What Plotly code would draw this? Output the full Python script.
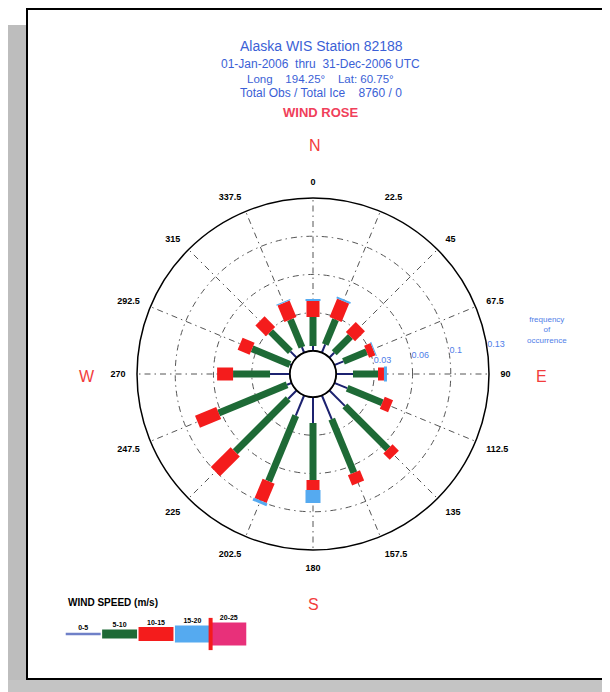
import plotly.graph_objects as go

# page body adds an 8px margin, so geometry below is given in reference
# pixels and shifted back by OFF
OFF = 8
W, H = 610 - OFF, 692 - OFF

# wind directions (deg, clockwise from north)
directions = [0, 22.5, 45, 67.5, 90, 112.5, 135, 157.5,
              180, 202.5, 225, 247.5, 270, 292.5, 315, 337.5]
dir_labels = ["0", "22.5", "45", "67.5", "90", "112.5", "135", "157.5",
              "180", "202.5", "225", "247.5", "270", "292.5", "315", "337.5"]

speed_bins = ["0-5", "5-10", "10-15", "15-20", "20-25"]

# frequency of occurrence per speed bin
freq_0_5 = [0.0044, 0.0078, 0.0061, 0.0087, 0.0148, 0.0122, 0.0192, 0.0226,
            0.0226, 0.0192, 0.0105, 0.0044, 0.0174, 0.0017, 0.0078, 0.0052]
freq_5_10 = [0.0253, 0.0235, 0.0200, 0.0218, 0.0218, 0.0331, 0.0531, 0.0505,
             0.0497, 0.0618, 0.0653, 0.0645, 0.0322, 0.0357, 0.0244, 0.0261]
freq_10_15 = [0.0139, 0.0174, 0.0122, 0.0061, 0.0052, 0.0078, 0.0078, 0.0096,
              0.0087, 0.0183, 0.0244, 0.0200, 0.0139, 0.0113, 0.0131, 0.0157]
freq_15_20 = [0.0017, 0.0017, 0.0, 0.0009, 0.0026, 0.0, 0.0, 0.0,
              0.0113, 0.0026, 0.0, 0.0, 0.0, 0.0, 0.0, 0.0009]
freq_20_25 = [0.0, 0.0, 0.0, 0.0, 0.0, 0.0, 0.0, 0.0,
              0.0, 0.0, 0.0, 0.0, 0.0, 0.0, 0.0, 0.0]

ring_vals = [0.0333, 0.0667, 0.1, 0.1333]
ring_labels = ["0.03", "0.06", "0.1", "0.13"]

COLORS = ["#1c2270", "#1e6a36", "#f41c1c", "#55aaf0", "#e8307a"]
LEGEND_COLORS = ["#6f80c8", "#1e6a36", "#f41c1c", "#55aaf0", "#e8307a"]
ROSE_WIDTHS = [2, 7, 13, 15, 18]
LEGEND_WIDTHS = [2.5, 9, 14, 17, 23]

BLUE = "#3b5fd6"
LIGHT_BLUE = "#4f7ee8"
RED = "#f23c3c"
GRID = "#555555"
GRID_DASH = "6px,4px,1.5px,4px"
FONT = "Arial, Liberation Sans, sans-serif"


def px_x(x):
    return (x - OFF) / W


def px_y(y):
    return 1 - (y - OFF) / H


fig = go.Figure()

# stacked segments, each drawn as a thick radial line
all_bins = [freq_0_5, freq_5_10, freq_10_15, freq_15_20, freq_20_25]
base = [0.0] * len(directions)
for b, freqs in enumerate(all_bins):
    rr, tt = [], []
    for i, d in enumerate(directions):
        if freqs[i] > 0:
            rr += [base[i], base[i] + freqs[i], None]
            tt += [d, d, None]
        base[i] += freqs[i]
    if rr:
        fig.add_trace(go.Scatterpolar(
            r=rr, theta=tt, mode="lines", showlegend=False, hoverinfo="skip",
            line=dict(color=COLORS[b], width=ROSE_WIDTHS[b]),
        ))

# calm circle
fig.add_trace(go.Scatterpolar(
    r=[0] * 73, theta=[k * 5 for k in range(73)], mode="lines",
    line=dict(color="black", width=2), showlegend=False, hoverinfo="skip",
))

# ring labels, horizontal, just above the east axis
fig.add_trace(go.Scatterpolar(
    r=ring_vals, theta=[82] * len(ring_vals), mode="text", text=ring_labels,
    textposition="top right", showlegend=False, hoverinfo="skip",
    textfont=dict(family=FONT, size=9, color=LIGHT_BLUE),
))

# speed legend on a small hidden cartesian axis
for b, lab in enumerate(speed_bins):
    fig.add_trace(go.Scatter(
        x=[b + 0.02, b + 0.98], y=[0, 0], mode="lines", showlegend=False,
        line=dict(color=LEGEND_COLORS[b], width=LEGEND_WIDTHS[b]), hoverinfo="skip",
    ))
    fig.add_trace(go.Scatter(
        x=[b + 0.5], y=[(LEGEND_WIDTHS[b] / 2 + 4) / 17.0], mode="text", text=[lab],
        textfont=dict(family=FONT, size=7, color="black", weight="bold"),
        showlegend=False, hoverinfo="skip",
    ))
fig.add_trace(go.Scatter(
    x=[4.0], y=[0], mode="markers", showlegend=False, hoverinfo="skip",
    marker=dict(symbol="line-ns", size=23, line=dict(color="#f41c1c", width=4)),
))

annotations = []


def note(text, x, y, size, color, bold=False, xanchor="center"):
    annotations.append(dict(
        text=text, x=px_x(x), y=px_y(y), xref="paper", yref="paper",
        xanchor=xanchor, yanchor="middle", showarrow=False,
        font=dict(family=FONT, size=size, color=color, weight="bold" if bold else "normal"),
    ))


note("Alaska WIS Station 82188", 321, 46, 14, BLUE)
note("01-Jan-2006  thru  31-Dec-2006 UTC", 320, 64, 12, BLUE)
note("Long    194.25°    Lat: 60.75°", 320, 79, 11.5, BLUE)
note("Total Obs / Total Ice    8760 / 0", 321, 93, 12, BLUE)
note("WIND ROSE", 320, 112, 13, "#f0405a", bold=True)

note("N", 315, 146, 16, RED)
note("E", 541, 376, 16, RED)
note("S", 313, 604, 16, RED)
note("W", 87, 376, 16, RED)

note("frequency<br>of<br>occurrence", 547, 330, 8, LIGHT_BLUE)
note("WIND SPEED (m/s)", 66, 602, 10, "black", bold=True, xanchor="left")

shapes = [
    dict(type="rect", xref="paper", yref="paper", x0=0, x1=px_x(27), y0=0, y1=px_y(25),
         fillcolor="#bdbdbd", line=dict(width=0), layer="below"),
    dict(type="rect", xref="paper", yref="paper", x0=0, x1=1, y0=0, y1=px_y(680),
         fillcolor="#c4c4c4", line=dict(width=0), layer="below"),
    dict(type="rect", xref="paper", yref="paper", x0=px_x(27), x1=px_x(605),
         y0=px_y(679), y1=px_y(9), fillcolor="white",
         line=dict(color="black", width=2), layer="below"),
]

fig.update_layout(
    width=W, height=H, autosize=False,
    margin=dict(l=0, r=0, t=0, b=0),
    paper_bgcolor="white", plot_bgcolor="rgba(0,0,0,0)",
    font=dict(family=FONT),
    polar=dict(
        domain=dict(x=[px_x(137), px_x(489)], y=[px_y(550), px_y(198)]),
        hole=23 / 176,
        bgcolor="white",
        radialaxis=dict(
            range=[0, 0.1333], tickvals=ring_vals, showticklabels=False,
            showline=False, ticks="",
            gridcolor=GRID, gridwidth=1, griddash=GRID_DASH,
        ),
        angularaxis=dict(
            rotation=90, direction="clockwise",
            tickvals=directions, ticktext=dir_labels,
            showline=True, linecolor="black", linewidth=1.5,
            gridcolor=GRID, gridwidth=1, griddash=GRID_DASH,
            ticks="outside", ticklen=9, tickcolor="rgba(0,0,0,0)",
            tickfont=dict(family=FONT, size=9, color="black", weight="bold"),
        ),
    ),
    xaxis=dict(domain=[px_x(65), px_x(247)], range=[0, 5], visible=False, fixedrange=True),
    yaxis=dict(domain=[px_y(653), px_y(615)], range=[-1.1, 1.1], visible=False, fixedrange=True),
    annotations=annotations,
    shapes=shapes,
)

fig.write_html("out.html")
